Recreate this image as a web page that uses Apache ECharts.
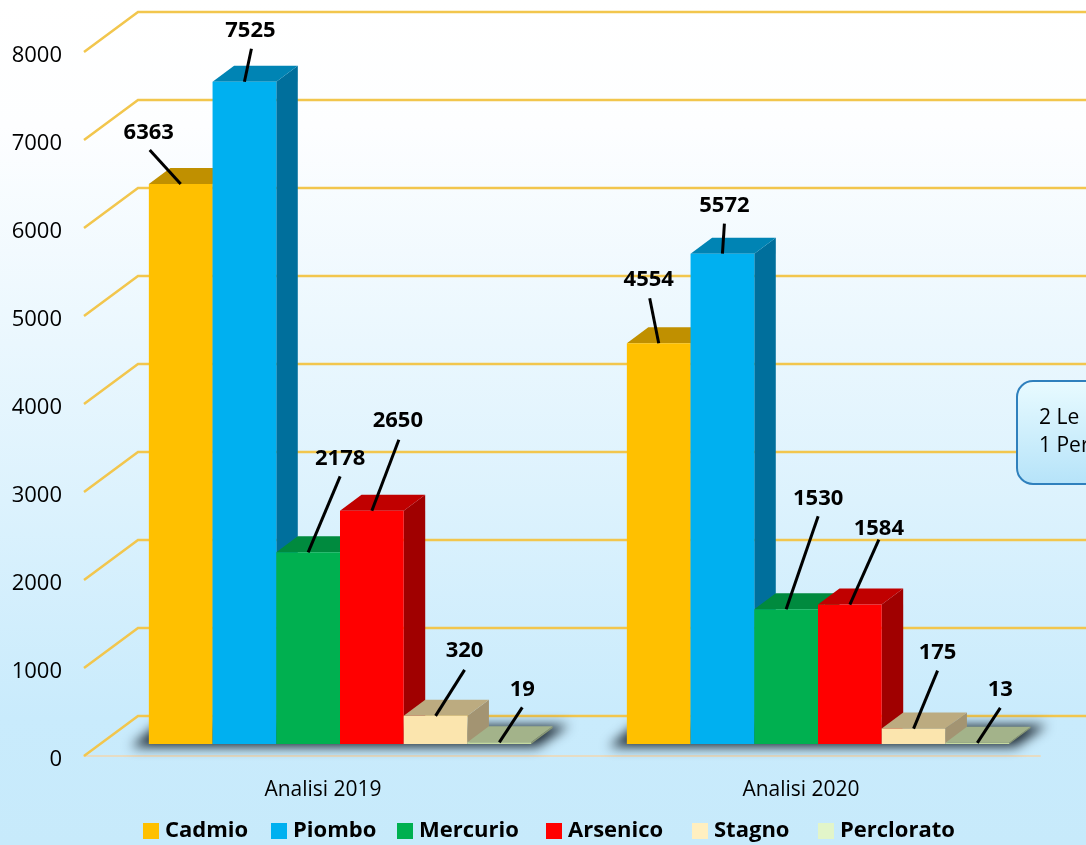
<!DOCTYPE html>
<html>
<head>
<meta charset="utf-8">
<style>html,body{margin:0;padding:0;overflow:hidden}#c{width:1086px;height:845px}</style>
<script src="https://cdn.jsdelivr.net/npm/echarts@6/dist/echarts.min.js"></script>
</head>
<body>
<div id="c"></div>
<script>
const categories = ['Analisi 2019', 'Analisi 2020'];
const yTicks = [0, 1000, 2000, 3000, 4000, 5000, 6000, 7000, 8000];
const cadmio = [6363, 4554];
const piombo = [7525, 5572];
const mercurio = [2178, 1530];
const arsenico = [2650, 1584];
const stagno = [320, 175];
const perclorato = [19, 13];
const seriesNames = ['Cadmio', 'Piombo', 'Mercurio', 'Arsenico', 'Stagno', 'Perclorato'];
const seriesValues = [cadmio, piombo, mercurio, arsenico, stagno, perclorato];

// styling: [front, top, side, legend]
const palette = [
  ['#ffc000', '#c09000', '#a07800', '#ffc000'],
  ['#00b0f0', '#0084b4', '#006f9c', '#00b0f0'],
  ['#00b050', '#008a3e', '#00703a', '#00b050'],
  ['#ff0000', '#c00000', '#a00000', '#ff0000'],
  ['#fbe5ae', '#bcab80', '#a39472', '#ffefc0'],
  ['#c5d9a0', '#a3b38a', '#8c9a76', '#e2f5c9']
];
// leader layout per series / category: [line end dx, line end dy, text dx, text dy] relative to bar top centre
const leaders = [
  [[-31, -34, -32, -51], [-9, -45, -10, -64]],
  [[7, -33, 6, -51], [2, -30, 2, -48]],
  [[32, -76, 32, -94], [32, -93, 32, -111]],
  [[27, -71, 26, -90], [29, -65, 29, -76]],
  [[29, -46, 29, -65], [24, -58, 24, -76]],
  [[23, -35, 23, -53], [23, -35, 23, -53]]
];
const legendLefts = [143, 271, 397, 546, 692, 818];
const WALL_DX = 54, WALL_DY = 40, BAR_DX = 21.5, BAR_DY = 16, LIFT = 12, GROUP_SHIFT = 17, BAR_FRAC = 0.1333;
const FONT = '"Open Sans"';

function barBox(api, sIdx) {
  const cat = api.value(0);
  const top = api.coord([cat, api.value(1)]);
  const base = api.coord([cat, 0]);
  const w = api.size([1, 0])[0] * BAR_FRAC;
  const x = base[0] + GROUP_SHIFT + (sIdx - 3) * w;
  return { x, w, yTop: top[1] - LIFT, yBase: base[1] - LIFT };
}
function poly(points, fill) {
  return { type: 'polygon', shape: { points }, style: { fill, stroke: null } };
}

const series = [];
// gridlines: wall + side diagonal
series.push({
  type: 'custom', name: 'walls', z: 1, silent: true,
  data: yTicks.map(t => [0, t]),
  encode: { x: 0, y: 1 },
  renderItem(params, api) {
    const y = api.coord([0, api.value(1)])[1];
    const x0 = params.coordSys.x;
    return {
      type: 'polyline',
      shape: { points: [[x0, y], [x0 + WALL_DX, y - WALL_DY], [1090, y - WALL_DY]] },
      style: { stroke: '#f2c64d', lineWidth: 2.5, fill: null }
    };
  }
});
// blurred floor shadow: the shape sits off the canvas so that only its soft shadow shows
const SHADOW_SHIFT = 3000;
series.push({
  type: 'custom', name: 'floorShadow', z: 2, silent: true,
  data: categories.map((c, i) => [i, 0]),
  encode: { x: 0, y: 1 },
  renderItem(params, api) {
    const p = api.coord([api.value(0), 0]);
    const cx = p[0] - SHADOW_SHIFT, y = p[1];
    return {
      type: 'polygon',
      shape: { points: [[cx - 192, y - 9], [cx + 214, y - 9], [cx + 246, y - 31], [cx - 166, y - 31]] },
      style: { fill: '#000', shadowBlur: 12, shadowColor: '#1f2c36', shadowOffsetX: SHADOW_SHIFT }
    };
  }
});
// 3D bars
seriesNames.forEach((name, sIdx) => {
  const colors = palette[sIdx];
  series.push({
    type: 'custom', name, z: 3 + sIdx, silent: true,
    itemStyle: { color: colors[3] },
    data: seriesValues[sIdx].map((v, i) => [i, v]),
    encode: { x: 0, y: 1 },
    renderItem(params, api) {
      const b = barBox(api, sIdx);
      const r = b.x + b.w;
      return {
        type: 'group',
        children: [
          poly([[r, b.yBase], [r + BAR_DX, b.yBase - BAR_DY], [r + BAR_DX, b.yTop - BAR_DY], [r, b.yTop]], colors[2]),
          poly([[b.x, b.yTop], [r, b.yTop], [r + BAR_DX, b.yTop - BAR_DY], [b.x + BAR_DX, b.yTop - BAR_DY]], colors[1]),
          { type: 'rect', shape: { x: b.x, y: b.yTop, width: b.w, height: b.yBase - b.yTop }, style: { fill: colors[0] } }
        ]
      };
    }
  });
});
// leaders and value labels, above everything
const labelRows = [];
seriesValues.forEach((vals, sIdx) => vals.forEach((v, i) => labelRows.push([i, v, sIdx])));
series.push({
  type: 'custom', name: 'labels', z: 20, silent: true,
  data: labelRows,
  encode: { x: 0, y: 1 },
  renderItem(params, api) {
    const sIdx = api.value(2);
    const b = barBox(api, sIdx);
    const l = leaders[sIdx][api.value(0)];
    const cx = b.x + b.w / 2;
    return {
      type: 'group',
      children: [
        { type: 'line', shape: { x1: cx, y1: b.yTop, x2: cx + l[0], y2: b.yTop + l[1] }, style: { stroke: '#000', lineWidth: 3 } },
        { type: 'text', x: cx + l[2], y: b.yTop + l[3],
          style: { text: String(api.value(1)), fill: '#000', font: 'bold 22px ' + FONT, align: 'center', verticalAlign: 'middle' } }
      ]
    };
  }
});

const chart = echarts.init(document.getElementById('c'), null, { width: 1086, height: 845 });
chart.setOption({
  animation: false,
  backgroundColor: {
    type: 'linear', x: 0, y: 0, x2: 0, y2: 1,
    colorStops: [{ offset: 0, color: '#ffffff' }, { offset: 0.15, color: '#fdfeff' }, { offset: 0.85, color: '#c9ebfc' }, { offset: 1, color: '#c7eafb' }]
  },
  grid: { left: 84, right: 46, top: 52, bottom: 89 },
  xAxis: {
    type: 'category', data: categories,
    axisTick: { show: false },
    axisLine: { lineStyle: { color: '#e6dcc4', width: 2 } },
    axisLabel: { fontFamily: FONT, fontSize: 21, color: '#000', margin: 24 }
  },
  yAxis: {
    type: 'value', min: 0, max: 8000, interval: 1000,
    axisLine: { show: false }, axisTick: { show: false }, splitLine: { show: false },
    axisLabel: { fontFamily: FONT, fontSize: 22, color: '#000', margin: 22, verticalAlign: 'top', lineHeight: 8, formatter: v => String(v) }
  },
  legend: seriesNames.map((name, i) => ({
    data: [name], left: legendLefts[i], top: 820, padding: 0, itemWidth: 16, itemHeight: 16,
    icon: 'rect', selectedMode: false,
    textStyle: { fontFamily: FONT, fontWeight: 'bold', fontSize: 22, color: '#000', padding: [0, 0, 0, 1] }
  })),
  graphic: [
    { type: 'rect', z: 30, shape: { x: 1017, y: 381, width: 120, height: 103, r: 16 },
      style: { stroke: '#2f80bd', lineWidth: 2,
        fill: { type: 'linear', x: 0, y: 0, x2: 0, y2: 1, colorStops: [{ offset: 0, color: '#e9fbff' }, { offset: 1, color: '#b5e3f9' }] } } },
    { type: 'text', z: 31, x: 1039, y: 408, style: { text: '2 Le', fill: '#000', font: '21px ' + FONT } },
    { type: 'text', z: 31, x: 1039, y: 436, style: { text: '1 Per', fill: '#000', font: '21px ' + FONT } }
  ],
  series
});
</script>
</body>
</html>
